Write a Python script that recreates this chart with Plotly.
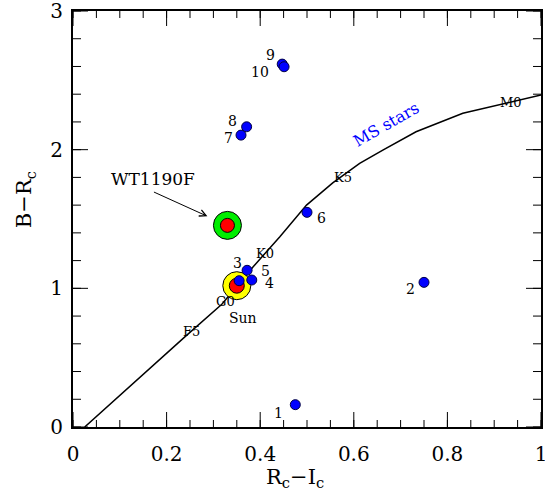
import plotly.graph_objects as go

# Main-sequence colour locus (R_c - I_c, B - R_c)
ms_x = [0.025, 0.105, 0.193, 0.239, 0.318, 0.385, 0.442, 0.499, 0.555, 0.6125, 0.662, 0.733, 0.833, 0.936, 1.0]
ms_y = [0.0, 0.243, 0.515, 0.650, 0.885, 1.156, 1.372, 1.600, 1.760, 1.901, 1.997, 2.129, 2.262, 2.345, 2.394]

# Spectral-type marks along the locus
sp_labels = ["F5", "G0", "K0", "K5", "M0"]
sp_x = [0.254, 0.325, 0.410, 0.577, 0.936]
sp_y = [0.687, 0.905, 1.252, 1.800, 2.338]

# Comparison objects
star_labels = ["1", "2", "3", "4", "5", "6", "7", "8", "9", "10"]
star_x = [0.475, 0.750, 0.355, 0.382, 0.372, 0.500, 0.359, 0.371, 0.447, 0.451]
star_y = [0.161, 1.043, 1.055, 1.060, 1.130, 1.548, 2.105, 2.165, 2.617, 2.598]
# label offsets in pixels (dx right, dy up)
star_dx = [-17, -14, -2, 18, 18, 14, -13, -14, -12, -24]
star_dy = [-8, -7, 18, -3, -1, -6, -3, 6, 9, -5]

sun_x, sun_y = 0.350, 1.019
wt_x, wt_y = 0.330, 1.454

# axis ranges and tick spacing
x_range, y_range = [0, 1], [0, 3]
x_major, x_minor = 0.2, 0.05
y_major, y_minor = 1, 0.2

serif = "DejaVu Serif"

fig = go.Figure()

fig.add_trace(go.Scatter(
    x=ms_x, y=ms_y, mode="lines",
    line=dict(color="black", width=1.5),
    hoverinfo="skip", showlegend=False))

# Sun: yellow disc with red core
fig.add_trace(go.Scatter(
    x=[sun_x], y=[sun_y], mode="markers",
    marker=dict(size=28, color="yellow", line=dict(color="black", width=1)),
    showlegend=False))
fig.add_trace(go.Scatter(
    x=[sun_x], y=[sun_y], mode="markers",
    marker=dict(size=15, color="red", line=dict(color="black", width=1)),
    showlegend=False))

# WT1190F: green disc with red core
fig.add_trace(go.Scatter(
    x=[wt_x], y=[wt_y], mode="markers",
    marker=dict(size=28, color="#00ee00", line=dict(color="black", width=1)),
    showlegend=False))
fig.add_trace(go.Scatter(
    x=[wt_x], y=[wt_y], mode="markers",
    marker=dict(size=14, color="red", line=dict(color="black", width=1)),
    showlegend=False))

fig.add_trace(go.Scatter(
    x=star_x, y=star_y, mode="markers",
    marker=dict(size=10, color="#0000ff", line=dict(color="#000044", width=1)),
    showlegend=False))

annotations = []
for lab, x, y, dx, dy in zip(star_labels, star_x, star_y, star_dx, star_dy):
    annotations.append(dict(x=x, y=y, text=lab, showarrow=False,
                            xshift=dx, yshift=dy,
                            font=dict(family=serif, size=14, color="black")))

for lab, x, y in zip(sp_labels, sp_x, sp_y):
    annotations.append(dict(x=x, y=y, text=lab, showarrow=False,
                            font=dict(family=serif, size=13, color="black")))

annotations.append(dict(x=sun_x, y=sun_y, text="Sun", showarrow=False,
                        xshift=6, yshift=-32,
                        font=dict(family=serif, size=14, color="black")))

annotations.append(dict(x=0.669, y=2.182, text="MS stars", showarrow=False,
                        textangle=-30,
                        font=dict(family=serif, size=16, color="#0000ff")))

# WT1190F label and arrow
annotations.append(dict(x=wt_x, y=wt_y, text="", showarrow=True,
                        ax=-75, ay=-34, standoff=22,
                        arrowhead=5, arrowsize=1.3, arrowwidth=1,
                        arrowcolor="black"))
annotations.append(dict(x=0.171, y=1.788, text="WT1190F", showarrow=False,
                        font=dict(family=serif, size=17, color="black")))

# axis titles
annotations.append(dict(x=0.474, y=-0.1226, xref="paper", yref="paper",
                        xanchor="center", yanchor="middle",
                        text="R<sub>c</sub>\u2212I<sub>c</sub>", showarrow=False,
                        font=dict(family=serif, size=21, color="black")))
annotations.append(dict(x=-0.102, y=0.546, xref="paper", yref="paper",
                        xanchor="center", yanchor="middle",
                        text="B\u2212R<sub>c</sub>", showarrow=False, textangle=-90,
                        font=dict(family=serif, size=21, color="black")))


# inward tick marks on all four sides, placed at axis values,
# with their length fixed in pixels
def steps(rng, step):
    n = int(round((rng[1] - rng[0]) / step))
    return [round(rng[0] + i * step, 6) for i in range(n + 1)]


tick_line = dict(color="black", width=1)
shapes = []
for step, length in ((x_minor, 7), (x_major, 15)):
    for v in steps(x_range, step):
        for edge, sign in ((0, 1), (1, -1)):
            shapes.append(dict(type="line", xref="x", yref="paper",
                               ysizemode="pixel", yanchor=edge,
                               x0=v, x1=v, y0=0, y1=sign * length,
                               line=tick_line, layer="above"))
for step, length in ((y_minor, 8), (y_major, 15)):
    for v in steps(y_range, step):
        for edge, sign in ((0, 1), (1, -1)):
            shapes.append(dict(type="line", yref="y", xref="paper",
                               xsizemode="pixel", xanchor=edge,
                               y0=v, y1=v, x0=0, x1=sign * length,
                               line=tick_line, layer="above"))

tickfont = dict(family=serif, size=20, color="black")

fig.update_xaxes(range=x_range, tickmode="linear", tick0=0, dtick=x_major,
                 showline=True, linecolor="black", linewidth=2, mirror=True,
                 ticks="", showgrid=False, zeroline=False,
                 tickfont=tickfont, ticklabelstandoff=8,
                 ticklabeloverflow="allow", automargin=False)
fig.update_yaxes(range=y_range, tickmode="linear", tick0=0, dtick=y_major,
                 showline=True, linecolor="black", linewidth=2, mirror=True,
                 ticks="", showgrid=False, zeroline=False,
                 tickfont=tickfont, ticklabelstandoff=4,
                 ticklabeloverflow="allow", automargin=False)

fig.update_layout(
    width=545, height=497,
    margin=dict(l=73, r=4, t=11, b=70),
    plot_bgcolor="white", paper_bgcolor="white",
    annotations=annotations,
    shapes=shapes,
    showlegend=False,
)

fig.write_html("out.html")
